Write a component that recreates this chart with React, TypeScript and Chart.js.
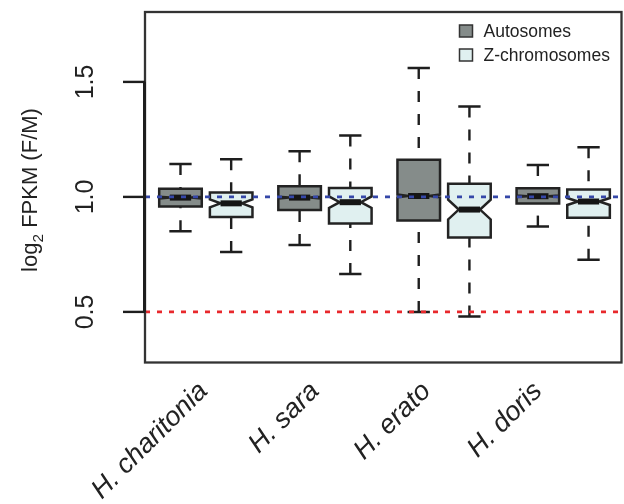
import React, { useEffect, useRef } from "react";
import { Chart, registerables } from "chart.js";

Chart.register(...registerables);

// ---------- data ----------
const categories = ["H. charitonia", "H. sara", "H. erato", "H. doris"];
const seriesNames = ["Autosomes", "Z-chromosomes"];

const autoLow = [0.851, 0.791, 0.5, 0.871];
const autoQ1 = [0.958, 0.943, 0.897, 0.971];
const autoMedian = [0.997, 0.997, 1.004, 1.003];
const autoQ3 = [1.035, 1.046, 1.162, 1.038];
const autoHigh = [1.143, 1.199, 1.561, 1.139];
const autoNotch = [0.004, 0.004, 0.006, 0.003];

const zLow = [0.76, 0.665, 0.48, 0.727];
const zQ1 = [0.913, 0.884, 0.823, 0.909];
const zMedian = [0.972, 0.977, 0.945, 0.98];
const zQ3 = [1.019, 1.039, 1.057, 1.032];
const zHigh = [1.164, 1.267, 1.393, 1.216];
const zNotch = [0.017, 0.025, 0.043, 0.015];

const yTicks = [0.5, 1.0, 1.5];
const yTickLabels = ["0.5", "1.0", "1.5"];
const refLineValues = [1.0, 0.5];
const refLineColors = ["#3547a8", "#e8282c"];

// ---------- layout ----------
const GROUP_STEP = 2.35;
const BOX_W = 0.84;
const CAP_W = 0.44;
const LABEL_START = 1.5;
const LABEL_STEP = 2.2;
const FONT = '"Liberation Sans", Arial, Helvetica, sans-serif';
const FILLS = ["#858c8a", "#e0f0f0"];
const INK = "#1e1e1e";

type Box = { x: number; y: number; low: number; q1: number; med: number; q3: number; high: number; notch: number };

function makeSeries(
  low: number[], q1: number[], med: number[], q3: number[], high: number[], notch: number[], offset: number
): Box[] {
  return categories.map((_, i) => ({
    x: 1 + i * GROUP_STEP + offset,
    y: med[i],
    low: low[i],
    q1: q1[i],
    med: med[i],
    q3: q3[i],
    high: high[i],
    notch: notch[i],
  }));
}

const boxPlugin = {
  id: "rboxes",
  afterDatasetsDraw(chart: any) {
    const { ctx, chartArea: ca, scales } = chart;
    const xs = scales.x;
    const ys = scales.y;
    ctx.save();

    // boxes
    chart.data.datasets.forEach((ds: any) => {
      ds.data.forEach((d: Box) => {
        const px = xs.getPixelForValue(d.x);
        const hw = xs.getPixelForValue(d.x + BOX_W / 2) - px;
        const cw = xs.getPixelForValue(d.x + CAP_W / 2) - px;
        const yLo = ys.getPixelForValue(d.low);
        const yQ1 = ys.getPixelForValue(d.q1);
        const yMed = ys.getPixelForValue(d.med);
        const yQ3 = ys.getPixelForValue(d.q3);
        const yHi = ys.getPixelForValue(d.high);
        const yNLo = ys.getPixelForValue(d.med - d.notch);
        const yNHi = ys.getPixelForValue(d.med + d.notch);

        // whiskers (dashed)
        ctx.strokeStyle = INK;
        ctx.lineWidth = 2.4;
        ctx.lineCap = "butt";
        ctx.setLineDash([11, 12]);
        ctx.beginPath();
        ctx.moveTo(px, yHi);
        ctx.lineTo(px, yQ3);
        ctx.stroke();
        ctx.beginPath();
        ctx.moveTo(px, yLo);
        ctx.lineTo(px, yQ1);
        ctx.stroke();
        ctx.setLineDash([]);

        // caps
        ctx.lineWidth = 2.5;
        ctx.beginPath();
        ctx.moveTo(px - cw, yHi);
        ctx.lineTo(px + cw, yHi);
        ctx.moveTo(px - cw, yLo);
        ctx.lineTo(px + cw, yLo);
        ctx.stroke();

        // notched box
        ctx.beginPath();
        ctx.moveTo(px - hw, yQ1);
        ctx.lineTo(px - hw, yNLo);
        ctx.lineTo(px - hw / 2, yMed);
        ctx.lineTo(px - hw, yNHi);
        ctx.lineTo(px - hw, yQ3);
        ctx.lineTo(px + hw, yQ3);
        ctx.lineTo(px + hw, yNHi);
        ctx.lineTo(px + hw / 2, yMed);
        ctx.lineTo(px + hw, yNLo);
        ctx.lineTo(px + hw, yQ1);
        ctx.closePath();
        ctx.fillStyle = ds.backgroundColor;
        ctx.fill();
        ctx.lineJoin = "miter";
        ctx.lineWidth = 2.5;
        ctx.strokeStyle = "#232323";
        ctx.stroke();

        // median
        ctx.lineWidth = 6;
        ctx.strokeStyle = "#151515";
        ctx.beginPath();
        ctx.moveTo(px - hw / 2, yMed);
        ctx.lineTo(px + hw / 2, yMed);
        ctx.stroke();
      });
    });

    // reference lines
    refLineValues.forEach((v, i) => {
      const y = ys.getPixelForValue(v);
      ctx.strokeStyle = refLineColors[i];
      ctx.lineWidth = 2.6;
      ctx.setLineDash([5, 7]);
      ctx.beginPath();
      ctx.moveTo(ca.left, y);
      ctx.lineTo(ca.right, y);
      ctx.stroke();
    });
    ctx.setLineDash([]);

    // plot border
    ctx.strokeStyle = "#333";
    ctx.lineWidth = 2.3;
    ctx.strokeRect(ca.left, ca.top, ca.right - ca.left, ca.bottom - ca.top);

    // y axis line + ticks
    ctx.strokeStyle = INK;
    ctx.lineWidth = 3;
    ctx.beginPath();
    ctx.moveTo(ca.left - 0.5, ys.getPixelForValue(yTicks[0]));
    ctx.lineTo(ca.left - 0.5, ys.getPixelForValue(yTicks[yTicks.length - 1]));
    ctx.stroke();
    ctx.lineWidth = 2.4;
    yTicks.forEach((t) => {
      const y = ys.getPixelForValue(t);
      ctx.beginPath();
      ctx.moveTo(ca.left - 22, y);
      ctx.lineTo(ca.left, y);
      ctx.stroke();
    });

    // y tick labels (rotated)
    ctx.fillStyle = "#222";
    ctx.font = `25px ${FONT}`;
    ctx.textAlign = "center";
    ctx.textBaseline = "alphabetic";
    yTicks.forEach((t, i) => {
      const y = ys.getPixelForValue(t);
      ctx.save();
      ctx.translate(ca.left - 52, y);
      ctx.rotate(-Math.PI / 2);
      ctx.fillText(yTickLabels[i], 0, 0);
      ctx.restore();
    });

    // y axis title with subscript
    const TS = 22;
    ctx.save();
    ctx.translate(37, 190);
    ctx.rotate(-Math.PI / 2);
    ctx.textAlign = "left";
    ctx.font = `${TS}px ${FONT}`;
    const w1 = ctx.measureText("log").width;
    const w3 = ctx.measureText(" FPKM (F/M)").width;
    ctx.font = `${TS * 0.7}px ${FONT}`;
    const w2 = ctx.measureText("2").width;
    let tx = -(w1 + w2 + w3) / 2;
    ctx.font = `${TS}px ${FONT}`;
    ctx.fillText("log", tx, 0);
    tx += w1;
    ctx.font = `${TS * 0.7}px ${FONT}`;
    ctx.fillText("2", tx, TS * 0.28);
    tx += w2;
    ctx.font = `${TS}px ${FONT}`;
    ctx.fillText(" FPKM (F/M)", tx, 0);
    ctx.restore();

    // x category labels (rotated 45)
    ctx.font = `italic 27px ${FONT}`;
    ctx.textAlign = "right";
    ctx.textBaseline = "alphabetic";
    categories.forEach((c, i) => {
      const lx = xs.getPixelForValue(LABEL_START + i * LABEL_STEP);
      ctx.save();
      ctx.translate(lx + 3, ca.bottom + 30);
      ctx.rotate(-Math.PI / 4);
      ctx.fillText(c, 0, 0);
      ctx.restore();
    });

    // legend
    ctx.font = `17.5px ${FONT}`;
    ctx.textAlign = "left";
    ctx.textBaseline = "middle";
    seriesNames.forEach((name, i) => {
      const sx = ca.right - 162;
      const sy = ca.top + 13 + i * 24;
      ctx.fillStyle = FILLS[i];
      ctx.fillRect(sx, sy, 13, 12);
      ctx.strokeStyle = "#333";
      ctx.lineWidth = 1.5;
      ctx.strokeRect(sx, sy, 13, 12);
      ctx.fillStyle = "#222";
      ctx.fillText(name, sx + 24, sy + 7);
    });

    ctx.restore();
  },
};

export default function App() {
  const ref = useRef<HTMLCanvasElement>(null);
  useEffect(() => {
    const canvas = ref.current;
    if (!canvas) return;
    const chart = new Chart(canvas, {
      type: "scatter",
      data: {
        datasets: [
          {
            label: seriesNames[0],
            data: makeSeries(autoLow, autoQ1, autoMedian, autoQ3, autoHigh, autoNotch, 0) as any,
            backgroundColor: FILLS[0],
            pointRadius: 0,
          },
          {
            label: seriesNames[1],
            data: makeSeries(zLow, zQ1, zMedian, zQ3, zHigh, zNotch, 1) as any,
            backgroundColor: FILLS[1],
            pointRadius: 0,
          },
        ],
      },
      options: {
        animation: false,
        responsive: false,
        events: [],
        layout: { padding: { left: 145, top: 12, right: 2.5, bottom: 141.5 } },
        scales: {
          x: { type: "linear", min: 0.3, max: 9.7, display: false },
          y: { type: "linear", min: 0.28, max: 1.804, display: false },
        },
        plugins: { legend: { display: false }, tooltip: { enabled: false } },
      },
      plugins: [boxPlugin],
    });
    return () => chart.destroy();
  }, []);
  return (
    <div style={{ position: "absolute", left: 0, top: 0, width: 624, height: 504, background: "#fff" }}>
      <canvas ref={ref} width={624} height={504} style={{ display: "block" }} />
    </div>
  );
}
